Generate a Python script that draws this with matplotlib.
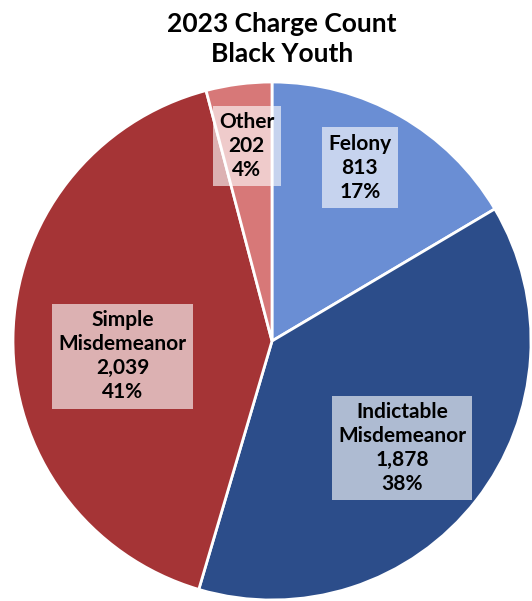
import numpy as np
import matplotlib.pyplot as plt

categories = ["Felony", "Indictable\nMisdemeanor", "Simple\nMisdemeanor", "Other"]
counts = [813, 1878, 2039, 202]
pcts = [17, 38, 41, 4]
colors = ["#6A8ED4", "#2C4D8A", "#A53436", "#D77878"]
# label placement: radius fraction and angle nudge (deg) from wedge middle
label_dist = [0.75, 0.65, 0.58, 0.76]
label_nudge = [2.8, -1.5, 6.7, 0.0]

plt.rcParams['font.family'] = ['Lato', 'DejaVu Sans']

fig = plt.figure(figsize=(5.32, 6.01), dpi=100)
ax = fig.add_axes([13/532, 1/601, 518/532, 518/601])

wedges, _ = ax.pie(counts, colors=colors, startangle=90, counterclock=False,
                   wedgeprops=dict(edgecolor="white", linewidth=2))

for w, cat, n, p, d, nd in zip(wedges, categories, counts, pcts, label_dist, label_nudge):
    ang = np.deg2rad((w.theta1 + w.theta2) / 2 + nd)
    ax.text(d * np.cos(ang), d * np.sin(ang), f"{cat}\n{n:,}\n{p}%",
            ha="center", va="center", fontsize=15, fontweight="bold",
            linespacing=1.25,
            bbox=dict(boxstyle="square,pad=0.3", fc="white", ec="none", alpha=0.62))

ax.set_xlim(-1, 1)
ax.set_ylim(-1, 1)
ax.set_aspect("equal")
ax.axis("off")

fig.text(0.530, 0.935, "2023 Charge Count\nBlack Youth", ha="center", va="center",
         fontsize=19, fontweight="bold", linespacing=1.3)

fig.savefig("out.png", dpi=100)
